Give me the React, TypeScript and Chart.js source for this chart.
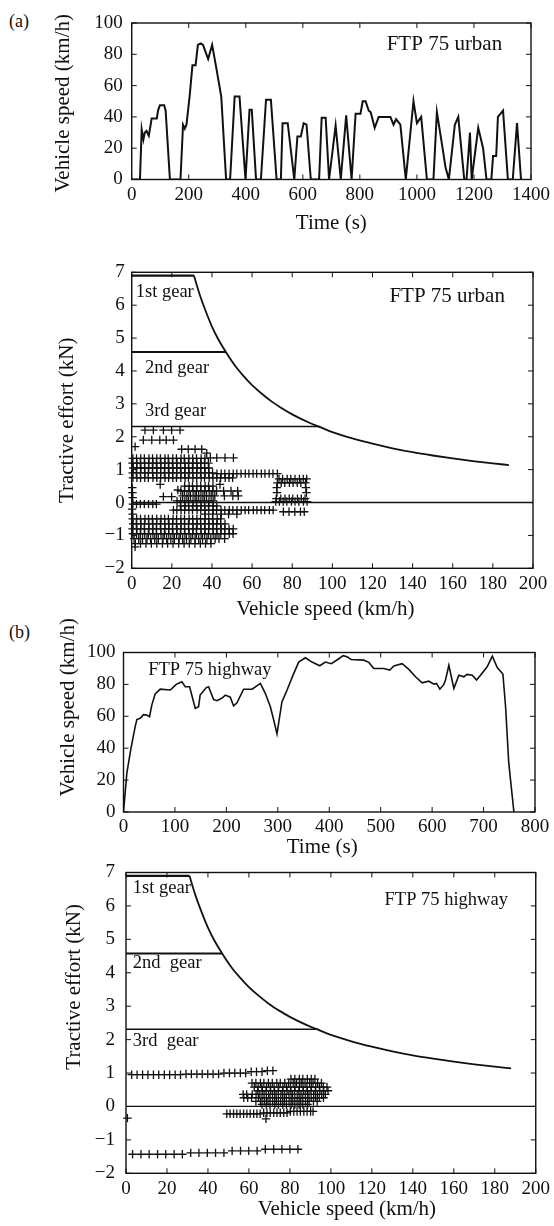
import { useEffect, useRef } from 'react';
import { Chart, registerables } from 'chart.js';

Chart.register(...registerables);

const SERIF = "'Liberation Serif', 'Times New Roman', serif";
const INK = '#111';

// ---------- (a) FTP 75 urban: speed trace ----------
const urbanTime = [0, 29, 35, 41, 46, 52, 60, 70, 88, 93, 99, 114, 119, 134, 171, 180, 186, 192, 203, 213, 224, 232, 242, 250, 268, 282, 296, 314, 331, 345, 361, 378, 399, 413, 421, 436, 453, 471, 488, 508, 523, 529, 547, 570, 581, 593, 603, 613, 628, 657, 666, 680, 692, 715, 733, 752, 771, 785, 802, 810, 820, 831, 838, 852, 866, 907, 918, 927, 942, 961, 988, 1000, 1015, 1035, 1058, 1070, 1090, 1100, 1112, 1133, 1145, 1166, 1174, 1186, 1192, 1215, 1232, 1244, 1261, 1267, 1278, 1284, 1302, 1319, 1336, 1351, 1365, 1370];
const urbanSpeed = [0, 0, 32, 25.5, 30, 31, 28, 39, 39, 44.5, 47.5, 47.5, 44, 0, 0, 35, 32.5, 35, 53, 73, 73, 86, 87, 86, 77, 86, 72, 53, 0, 0, 53, 53, 0, 44.5, 44.5, 0, 0, 51, 51, 0, 0, 36, 36, 0, 27.5, 27.5, 36, 35, 0, 0, 39.5, 39.5, 0, 34.5, 0, 41, 0, 42, 42, 50, 50, 44, 43, 33, 40, 40, 35, 38.5, 35, 0, 50, 36, 40, 0, 0, 43, 20, 8, 0, 35, 40, 0, 0, 30, 0, 33, 20, 0, 0, 15, 15, 40, 44, 0, 0, 36, 0, 0];

// ---------- (b) FTP 75 highway: speed trace ----------
const highwayTime = [0, 6.5, 14, 22.7, 26, 32.4, 39, 45.4, 50.6, 55, 61.6, 71.4, 91, 102.5, 113.5, 120, 128.5, 139.5, 146, 149, 161, 165.4, 175, 181.6, 191, 198, 207.6, 214, 220.6, 233.5, 250, 266, 275.7, 285.5, 292, 298.4, 308, 318, 329.6, 340.6, 353.6, 366.5, 381.5, 392.5, 404, 416.5, 427, 434.7, 442.5, 467, 477, 486.6, 506, 517.7, 525.5, 541.7, 554.7, 567.7, 580.6, 593.6, 603.4, 608.5, 615, 622.8, 626, 632.5, 642.3, 652, 661.7, 668, 678, 686.4, 694, 707, 717, 726.6, 737.6, 742.8, 749, 759];
const highwaySpeed = [0, 24.4, 39, 53.5, 58, 58.8, 61, 60.8, 59.8, 67, 74, 77, 76.5, 80, 81.7, 78.5, 78.5, 65, 66, 73.3, 78, 78.5, 70.6, 69.8, 71.3, 73.3, 72, 66.5, 68.5, 77, 77, 80.6, 74.4, 66, 57.7, 49, 69, 76.5, 85.8, 94, 96.7, 94, 91.7, 94, 93, 95.6, 98, 97.3, 95.6, 95.2, 93.8, 90, 90, 89, 91.5, 93, 89.4, 84.8, 81, 82, 80.2, 80.6, 77, 80, 82.7, 92, 77.5, 85.8, 84.8, 86.3, 85.8, 82.7, 85.8, 91, 97.7, 90.6, 86.5, 66, 30.6, 0];

// ---------- gear limits and constant-power curve (kN vs km/h) ----------
const gear1Speed = [0, 31];
const gear1Force = [6.9, 6.9];
const gear2Speed = [0, 47];
const gear2Force = [4.58, 4.58];
const gear3Speed = [0, 94];
const gear3Force = [2.31, 2.31];
const powerSpeed = [31, 34, 37, 40, 43, 47, 52, 56, 60, 65, 70, 75, 80, 88, 94, 100, 110, 120, 130, 140, 150, 160, 170, 180, 188];
const powerForce = [6.9, 6.3, 5.8, 5.35, 4.98, 4.57, 4.12, 3.83, 3.57, 3.3, 3.06, 2.86, 2.68, 2.44, 2.29, 2.14, 1.95, 1.79, 1.65, 1.53, 1.43, 1.34, 1.26, 1.19, 1.14];
const zeroSpeed = [0, 200];
const zeroForce = [0, 0];

// ---------- required tractive effort points: [force, speeds[]] ----------
const urbanTractionRows: [number, number[]][] = [
  [2.2, [6.6, 10.8, 15.8, 19.9, 24.1]],
  [1.9, [5.8, 10.0, 14.0, 17.2, 20.8]],
  [1.7, [1.7]],
  [1.62, [24.9, 28.2, 31.6, 34.9]],
  [1.5, [37.4]],
  [1.36, [39.2, 42.4, 46.5, 50.7]],
  [1.34, [0.6, 2.4, 4.5, 6.3, 8.6, 10.4, 12.5, 14.3, 16.6, 18.2, 20.5, 22.3, 24.6, 26.2, 28.5, 30.4, 32.3, 34.6, 36.5]],
  [1.2, [0.4, 2.6, 4.3, 6.5, 8.4, 10.6, 12.3, 14.6, 16.4, 18.5, 20.3, 22.6, 24.4, 26.5, 28.3, 30.6, 32.5, 34.4, 36.3, 38.2]],
  [1.05, [0.8, 2.5, 4.6, 6.4, 8.5, 10.3, 12.6, 14.4, 16.5, 18.3, 20.6, 22.4, 24.3, 26.6, 28.4, 30.3, 32.6, 34.5, 36.4, 38.5]],
  [0.9, [0.5, 2.3, 4.4, 6.6, 8.3, 10.5, 12.4, 14.5, 16.3, 18.6, 20.4, 22.5, 24.6, 26.4, 28.6, 30.5, 32.4, 34.3, 36.6, 38.4, 40.3]],
  [0.88, [42.5, 44.6, 46.4, 48.5, 50.6, 52.4, 54.5, 56.6, 58.4, 60.5, 62.3, 64.6, 66.4, 68.5, 70.4, 72.6]],
  [0.75, [0.6, 2.6, 4.4, 6.5, 8.3, 10.6, 12.5, 14.4, 16.6, 18.4, 20.5, 22.3, 24.5, 26.6, 28.3, 30.5, 32.4, 34.6, 36.3, 38.6, 40.5, 42.4, 44.3, 46.6, 48.5, 50.3]],
  [0.55, [14.2, 44.0]],
  [0.45, [0.3]],
  [0.3, [0.4]],
  [0.15, [0.5]],
  [-0.05, [0.6, 2.4, 4.3, 6.3, 8.4, 10.5, 12.3]],
  [0.18, [15.8, 19.9]],
  [0.38, [23.0]],
  [0.5, [26.4, 28.6, 30.3, 32.5, 34.4, 36.6, 38.3, 40.5]],
  [0.35, [24.5, 26.3, 28.5, 30.6, 32.3, 34.5, 36.4, 38.6, 40.4, 42.3, 45.8, 49.5, 52.8]],
  [0.2, [25.4, 27.5, 29.3, 31.6, 33.4, 35.5, 37.3, 39.6, 41.4, 46.2, 50.4, 53.1]],
  [0.05, [22.6, 24.4, 26.5, 28.3, 30.6, 32.4, 34.5, 36.3, 38.5, 40.6]],
  [-0.1, [24.3, 26.6, 28.4, 30.5, 32.3, 34.6, 36.4, 38.3, 40.5, 42.4]],
  [-0.23, [20.8, 22.5, 24.6, 26.4, 28.5, 30.3, 32.6, 34.4, 36.5, 38.4, 40.6, 42.3, 44.5, 46.4, 48.6, 50.4, 52.5, 54.6, 56.5, 58.3, 60.6, 62.4, 64.5, 66.3, 68.6, 70.5]],
  [-0.2, [0.2]],
  [-0.35, [0.5, 36.5, 40.4, 44.6, 48.3, 52.4]],
  [-0.5, [0.5, 2.5, 4.4, 6.6, 8.4, 10.3, 12.5, 14.6, 16.4, 18.3, 20.6, 22.4, 24.5, 26.3, 28.6, 30.4, 32.5, 34.3, 36.6, 38.4, 40.3, 42.6, 44.4]],
  [-0.65, [0.7, 2.3, 4.6, 6.4, 8.5, 10.6, 12.4, 14.3, 16.5, 18.6, 20.4, 22.3, 24.6, 26.4, 28.3, 30.5, 32.6, 34.4, 36.3, 38.5, 40.6, 42.4, 44.3, 46.5]],
  [-0.8, [0.4, 2.6, 4.5, 6.3, 8.6, 10.4, 12.3, 14.5, 16.6, 18.4, 20.3, 22.6, 24.5, 26.3, 28.4, 30.6, 32.3, 34.5, 36.6, 38.4, 40.5, 42.3, 44.6, 46.4, 48.5, 50.6]],
  [-0.95, [0.6, 2.4, 4.3, 6.5, 8.3, 10.6, 12.4, 14.6, 16.3, 18.5, 20.6, 22.4, 24.3, 26.5, 28.6, 30.4, 32.3, 34.6, 36.4, 38.3, 40.6, 42.5, 44.4, 46.3, 48.6, 50.5]],
  [-1.1, [1.2, 3.5, 5.4, 7.6, 9.4, 11.5, 13.3, 15.6, 17.4, 19.5, 21.3, 23.6, 25.4, 27.3, 29.5, 31.6, 33.4, 35.3, 37.5, 39.4, 41.6, 43.5, 46.3]],
  [-1.25, [1.8, 4.4, 7.1, 9.8, 12.5, 15.3, 17.9, 20.6, 23.4, 26.1, 28.7, 31.5, 34.2, 36.8, 39.5]],
  [-1.35, [1.7]],
  [0.72, [73.4, 75.2, 77.5, 79.3, 81.4, 83.6, 85.5, 87.2]],
  [0.6, [72.6, 74.5, 76.3, 78.6, 80.4, 82.5, 84.3, 86.6]],
  [0.45, [72.3, 86.8]],
  [0.3, [72.4, 87.1]],
  [0.12, [72.1, 74.3, 76.4, 78.5, 80.3, 82.6, 84.5, 86.4]],
  [0.03, [71.8, 73.6, 75.5, 77.3, 79.6, 81.4, 83.3, 85.6, 87.4]],
  [-0.28, [75.6, 78.4, 81.3, 84.1, 86.0]],
];

const highwayTractionRows: [number, number[]][] = [
  [0.95, [2.8, 5.4, 8.1, 10.7, 13.4, 16.0, 18.7, 21.3, 24.0, 26.6]],
  [0.97, [29.3, 31.9, 34.6, 37.2, 39.9, 42.5, 45.2]],
  [1.0, [47.8, 50.5, 53.1, 55.8, 58.4]],
  [1.04, [61.1, 63.7, 66.4]],
  [1.07, [69.0, 71.7]],
  [-1.43, [3.2, 7.3, 11.3, 15.4, 19.4, 23.5, 27.5]],
  [-1.39, [31.6, 35.6, 39.7, 43.7, 47.8]],
  [-1.33, [51.8, 55.9, 59.9, 64.0]],
  [-1.28, [68.0, 72.1, 76.1, 80.0, 83.9]],
  [-0.35, [0.7]],
  [-0.37, [68.3]],
  [-0.22, [49.2, 50.8, 52.5, 54.1, 55.7, 57.4, 59.0, 60.6, 62.3, 63.9, 65.5]],
  [-0.19, [67.2, 68.8, 70.4, 72.1, 73.7, 75.3, 77.0, 78.6]],
  [-0.15, [80.2, 81.9, 83.5, 85.1, 86.8, 88.4, 90.1, 91.3]],
  [0.82, [80.5, 82.4, 84.6, 86.3, 88.5, 90.4, 92.2]],
  [0.7, [61.5, 63.4, 65.6, 67.3, 69.5, 71.4, 73.6, 75.3, 77.5, 79.4, 81.6, 83.3, 85.5, 87.4, 89.6, 91.3, 93.5, 95.4]],
  [0.58, [62.6, 64.5, 66.3, 68.6, 70.4, 72.3, 74.5, 76.6, 78.4, 80.3, 82.5, 84.6, 86.4, 88.3, 90.5, 92.6, 94.4, 96.3, 98.1]],
  [0.47, [64.3, 66.5, 68.4, 70.6, 72.5, 74.3, 76.4, 78.6, 80.5, 82.3, 84.4, 86.6, 88.5, 90.3, 92.4, 94.6, 96.5, 98.6]],
  [0.36, [57.2, 58.9, 61.6, 63.5, 65.3, 67.4, 69.6, 71.5, 73.3, 75.6, 77.4, 79.5, 81.3, 83.6, 85.4, 87.5, 89.3, 91.6, 93.4, 95.5, 97.3]],
  [0.26, [57.5, 59.4, 61.3, 64.6, 66.4, 68.5, 70.3, 72.6, 74.4, 76.5, 78.3, 80.6, 82.4, 84.5, 86.3, 88.6, 90.4, 92.5, 94.3, 96.4]],
  [0.15, [63.4, 65.6, 67.5, 69.3, 71.6, 73.4, 75.5, 77.3, 79.6, 81.4, 83.5, 85.3, 87.6, 89.4, 91.5, 93.3]],
  [0.06, [66.4, 68.5, 70.3, 72.6, 74.4, 76.5, 78.3, 80.6, 82.4, 84.5, 86.3, 88.6]],
];

// ---------- tick labels ----------
const urbanTimeTicks = [0, 200, 400, 600, 800, 1000, 1200, 1400];
const highwayTimeTicks = [0, 100, 200, 300, 400, 500, 600, 700, 800];
const speedTicks = [0, 20, 40, 60, 80, 100];
const vehicleSpeedTicks = [0, 20, 40, 60, 80, 100, 120, 140, 160, 180, 200];
const effortTicks = [-2, -1, 0, 1, 2, 3, 4, 5, 6, 7];

// ---------- helpers ----------
const toXY = (xs: number[], ys: number[]) => xs.map((x, i) => ({ x, y: ys[i] }));
const rowsToXY = (rows: [number, number[]][]) =>
  rows.flatMap(([f, vs]) => vs.map((v) => ({ x: v, y: f })));

const lineDs = (data: { x: number; y: number }[], width: number, smooth = false) => ({
  data,
  showLine: true,
  borderColor: INK,
  backgroundColor: INK,
  borderWidth: width,
  pointRadius: 0,
  fill: false,
  tension: 0,
  cubicInterpolationMode: smooth ? 'monotone' : 'default',
});

const crossDs = (data: { x: number; y: number }[]) => ({
  data,
  showLine: false,
  pointStyle: 'cross',
  pointRadius: 4.2,
  borderWidth: 1.3,
  borderColor: INK,
  backgroundColor: INK,
  clip: false,
});

const tractionLines = () => [
  lineDs(toXY(gear1Speed, gear1Force), 2.2),
  lineDs(toXY(powerSpeed, powerForce), 1.8, true),
  lineDs(toXY(gear2Speed, gear2Force), 2.0),
  lineDs(toXY(gear3Speed, gear3Force), 1.4),
  lineDs(toXY(zeroSpeed, zeroForce), 1.3),
];

type Note = { text: string; x: number; y: number; size: number; align: CanvasTextAlign };
type AxisSpec = {
  min: number; max: number; ticks: number[]; title: string;
  tickPad: number; titlePad?: number; shift: number;
};
type PanelSpec = {
  id: string; ct: number; ch: number;
  L: number; R: number; T: number; B: number;
  x: AxisSpec; y: AxisSpec; datasets: any[]; notes: Note[];
};

const panels: PanelSpec[] = [
  {
    id: 'urbanSpeed', ct: 0, ch: 236, L: 131.7, R: 533, T: 23, B: 179.5,
    x: { min: 0, max: 1400, ticks: urbanTimeTicks, title: 'Time (s)', tickPad: 4, shift: 0 },
    y: { min: 0, max: 100, ticks: speedTicks, title: 'Vehicle speed (km/h)', tickPad: 9, titlePad: 51, shift: 2 },
    datasets: [lineDs(toXY(urbanTime, urbanSpeed), 2.0)],
    notes: [{ text: 'FTP 75 urban', x: 1299, y: 86, size: 21, align: 'right' }],
  },
  {
    id: 'urbanEffort', ct: 240, ch: 382, L: 131.7, R: 533, T: 272.3, B: 568.3,
    x: { min: 0, max: 200, ticks: vehicleSpeedTicks, title: 'Vehicle speed (km/h)', tickPad: 4, shift: -7 },
    y: { min: -2, max: 7, ticks: effortTicks, title: 'Tractive effort (kN)', tickPad: 7, titlePad: 54.4, shift: 0 },
    datasets: [...tractionLines(), crossDs(rowsToXY(urbanTractionRows))],
    notes: [
      { text: 'FTP 75 urban', x: 186, y: 6.26, size: 21, align: 'right' },
      { text: '1st gear', x: 2.0, y: 6.39, size: 18.5, align: 'left' },
      { text: '2nd gear', x: 6.6, y: 4.09, size: 18.5, align: 'left' },
      { text: '3rd gear', x: 6.6, y: 2.77, size: 18.5, align: 'left' },
    ],
  },
  {
    id: 'highwaySpeed', ct: 600, ch: 260, L: 123.5, R: 535, T: 652.5, B: 812,
    x: { min: 0, max: 800, ticks: highwayTimeTicks, title: 'Time (s)', tickPad: 4, shift: -7 },
    y: { min: 0, max: 100, ticks: speedTicks, title: 'Vehicle speed (km/h)', tickPad: 8, titlePad: 55.4, shift: -25 },
    datasets: [lineDs(toXY(highwayTime, highwaySpeed), 1.6)],
    notes: [{ text: 'FTP 75 highway', x: 48, y: 88.8, size: 18.5, align: 'left' }],
  },
  {
    id: 'highwayEffort', ct: 850, ch: 372, L: 126, R: 537, T: 872.5, B: 1173.3,
    x: { min: 0, max: 200, ticks: vehicleSpeedTicks, title: 'Vehicle speed (km/h)', tickPad: 4, shift: 16 },
    y: { min: -2, max: 7, ticks: effortTicks, title: 'Tractive effort (kN)', tickPad: 11, titlePad: 61.4, shift: -36 },
    datasets: [...tractionLines(), crossDs(rowsToXY(highwayTractionRows))],
    notes: [
      { text: 'FTP 75 highway', x: 186.4, y: 6.18, size: 18.5, align: 'right' },
      { text: '1st gear', x: 3.3, y: 6.53, size: 18.5, align: 'left' },
      { text: '2nd  gear', x: 3.3, y: 4.28, size: 18.5, align: 'left' },
      { text: '3rd  gear', x: 3.3, y: 1.94, size: 18.5, align: 'left' },
    ],
  },
];

const fmt = (v: number | string) => String(v).replace('-', '\u2212');

function makeFramePlugin(spec: PanelSpec) {
  const move = (chart: any, sign: number) => {
    const { x, y } = chart.scales;
    if (spec.x.shift) { x.left += sign * spec.x.shift; x.right += sign * spec.x.shift; }
    if (spec.y.shift) { y.top += sign * spec.y.shift; y.bottom += sign * spec.y.shift; }
  };
  return {
    id: 'frame_' + spec.id,
    // axis titles are drawn (with the scale layers) before the datasets;
    // offset them only for that phase, so that clipping stays on the plot area
    beforeDraw(chart: any) { move(chart, 1); },
    beforeDatasetsDraw(chart: any) { move(chart, -1); },
    afterDatasetsDraw(chart: any) {
      const { ctx, chartArea: a, scales } = chart;
      ctx.save();
      ctx.strokeStyle = INK;
      ctx.lineWidth = 1.4;
      ctx.strokeRect(a.left, a.top, a.right - a.left, a.bottom - a.top);
      ctx.lineWidth = 1;
      const tl = 5;
      const seg = (x1: number, y1: number, x2: number, y2: number) => {
        ctx.beginPath(); ctx.moveTo(x1, y1); ctx.lineTo(x2, y2); ctx.stroke();
      };
      for (const t of scales.x.ticks) {
        const px = scales.x.getPixelForValue(t.value);
        seg(px, a.bottom, px, a.bottom - tl);
        seg(px, a.top, px, a.top + tl);
      }
      for (const t of scales.y.ticks) {
        const py = scales.y.getPixelForValue(t.value);
        seg(a.left, py, a.left + tl, py);
        seg(a.right, py, a.right - tl, py);
      }
      ctx.fillStyle = INK;
      ctx.textBaseline = 'middle';
      for (const n of spec.notes) {
        ctx.font = `${n.size}px ${SERIF}`;
        ctx.textAlign = n.align;
        ctx.fillText(n.text, scales.x.getPixelForValue(n.x), scales.y.getPixelForValue(n.y));
      }
      ctx.restore();
    },
  };
}

function buildConfig(spec: PanelSpec): any {
  const canvasBottom = spec.ct + spec.ch;
  const axisCommon = (a: AxisSpec) => ({
    type: 'linear',
    min: a.min,
    max: a.max,
    afterBuildTicks: (s: any) => { s.ticks = a.ticks.map((value) => ({ value })); },
    grid: { display: false, drawTicks: false },
    border: { display: false },
    ticks: {
      font: { family: SERIF, size: 19 },
      color: INK,
      padding: a.tickPad,
      maxRotation: 0,
      minRotation: 0,
      autoSkip: false,
      callback: (v: number) => fmt(v),
    },
  });
  return {
    type: 'scatter',
    data: { datasets: spec.datasets },
    options: {
      animation: false,
      responsive: false,
      maintainAspectRatio: false,
      devicePixelRatio: 1,
      events: [],
      layout: { padding: { left: 0, right: 554 - spec.R, top: spec.T - spec.ct, bottom: 0 } },
      plugins: { legend: { display: false }, tooltip: { enabled: false } },
      scales: {
        x: {
          ...axisCommon(spec.x),
          position: 'bottom',
          afterFit: (s: any) => { s.height = canvasBottom - spec.B; },
          title: {
            display: true, text: spec.x.title, color: INK,
            font: { family: SERIF, size: 21 }, padding: { top: 0, bottom: 0 },
          },
        },
        y: {
          ...axisCommon(spec.y),
          position: 'left',
          afterFit: (s: any) => { s.width = spec.L; },
          title: {
            display: true, text: spec.y.title, color: INK,
            font: { family: SERIF, size: 21 }, padding: { top: spec.y.titlePad ?? 0, bottom: 0 },
          },
        },
      },
    },
    plugins: [makeFramePlugin(spec)],
  };
}

function Panel({ spec }: { spec: PanelSpec }) {
  const ref = useRef<HTMLCanvasElement>(null);
  useEffect(() => {
    const chart = new Chart(ref.current as HTMLCanvasElement, buildConfig(spec));
    return () => chart.destroy();
  }, [spec]);
  return (
    <canvas
      ref={ref}
      width={554}
      height={spec.ch}
      style={{ position: 'absolute', left: 0, top: spec.ct, width: 554, height: spec.ch }}
    />
  );
}

export default function App() {
  const label = (text: string, left: number, top: number) => (
    <div
      style={{
        position: 'absolute', left, top, font: `18px ${SERIF}`, lineHeight: '18px', color: INK,
      }}
    >
      {text}
    </div>
  );
  return (
    <div
      style={{
        position: 'absolute', left: 0, top: 0, width: 554, height: 1226,
        background: '#fff', overflow: 'hidden',
      }}
    >
      {label('(a)', 9, 12)}
      {label('(b)', 9, 623)}
      {panels.map((p) => (
        <Panel key={p.id} spec={p} />
      ))}
    </div>
  );
}
